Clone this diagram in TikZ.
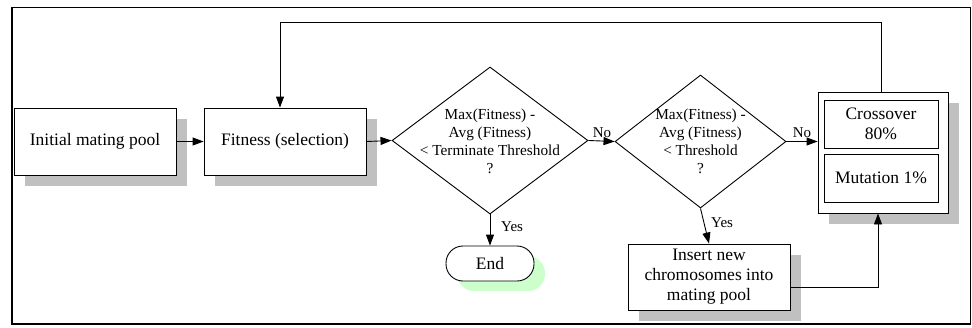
\documentclass[tikz,border=0pt]{standalone}
\usepackage{fontspec}
\setmainfont{Liberation Serif}
\usetikzlibrary{shapes.geometric,shadows,arrows.meta,calc}
\definecolor{shadowgrey}{HTML}{C0C0C0}
\definecolor{shadowgreen}{HTML}{CCFFCC}
\begin{document}
\begin{tikzpicture}[x=1pt,y=-1pt,
  box/.style={draw,line width=0.9pt,fill=white,inner sep=0pt,align=center,
    font=\fontsize{17.5}{20}\selectfont},
  greyshadow/.style={general shadow={fill=shadowgrey,shadow xshift=11pt,shadow yshift=-11pt}},
  dia/.style={draw,line width=0.9pt,shape=diamond,inner sep=0pt,fill=white},
  diatext/.style={align=center,inner sep=0pt,font=\fontsize{15.3}{18}\selectfont},
  lbl/.style={font=\fontsize{15}{17}\selectfont,inner sep=1pt},
  conn/.style={line width=0.9pt,-{Triangle[length=11pt,width=8pt]}}]
\useasboundingbox (0,0) rectangle (972,327);
\draw[line width=1.4pt] (12,7.5) rectangle (970.5,324);
% nodes
\node[box,greyshadow,minimum width=162,minimum height=67] (init) at (95,141.5) {Initial mating pool};
\node[box,greyshadow,minimum width=162,minimum height=67] (fit) at (285,141.5) {Fitness (selection)};
\node[dia,minimum width=196,minimum height=147] (d1) at (490,140.5) {};
\node[diatext] (d1t) at (490,141) {Max(Fitness) -\\Avg (Fitness)\\< Terminate Threshold\\?};
\node[dia,minimum width=171,minimum height=133] (d2) at (700.5,141.5) {};
\node[diatext] (d2t) at (700.5,141) {Max(Fitness) -\\Avg (Fitness)\\< Threshold\\?};
\node[box,greyshadow,minimum width=130,minimum height=121] (ops) at (883,152.5) {};
\node[box,minimum width=114,minimum height=48] (cross) at (881,124) {Crossover\\80\%};
\node[box,minimum width=114,minimum height=48] (mut) at (881,178) {Mutation 1\%};
\node[box,greyshadow,minimum width=162,minimum height=66] (ins) at (709,277) {Insert new\\chromosomes into\\mating pool};
\node[box,rounded corners=17pt,minimum width=88,minimum height=35,
  general shadow={fill=shadowgreen,shadow xshift=11pt,shadow yshift=-10pt}] (end) at (490,263.5) {End};
% coordinates
\coordinate (insout) at (790,287);
\coordinate (upx) at (878,287);
\coordinate (fbstart) at (881,92);
\coordinate (fbtop) at (881,22.5);
\coordinate (fbleft) at (280,22.5);
% connectors
\draw[conn] (init.east) -- (fit.west);
\draw[conn] (fit.east) -- (d1.west);
\draw[conn] (d1.east) -- (d2.west);
\node[lbl,anchor=south] (no1) at (602,139) {No};
\draw[conn] (d2.east) -- (d2.east -| ops.west);
\node[lbl,anchor=south] (no2) at (802,139) {No};
\draw[conn] (d1.south) -- (end.north);
\node[lbl,anchor=west] (yes1) at (500,227) {Yes};
\draw[conn] (d2.south) -- (ins.north);
\node[lbl,anchor=west] (yes2) at (710,223) {Yes};
\draw[conn] (insout) -- (upx) -- (upx |- ops.south);
\draw[conn] (fbstart) -- (fbtop) -- (fbleft) -- (fbleft |- fit.north);
\end{tikzpicture}
\end{document}
